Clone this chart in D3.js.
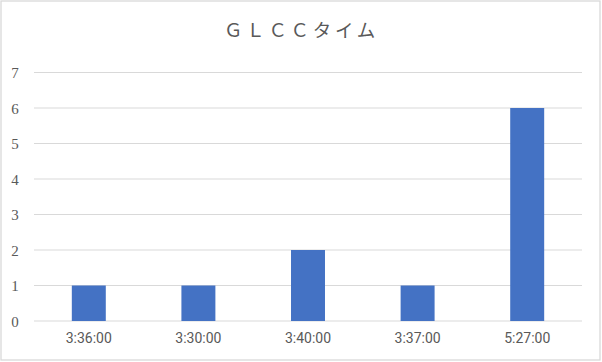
<!DOCTYPE html>
<html><head><meta charset="utf-8">
<script src="https://cdn.jsdelivr.net/npm/d3@7"></script>
<style>body{margin:0;background:#fff}svg{display:block}</style>
</head><body>
<script>
const title = "ＧＬＣＣタイム";
const categories = ["3:36:00","3:30:00","3:40:00","3:37:00","5:27:00"];
const values = [1,1,2,1,6];
const yTicks = [0,1,2,3,4,5,6,7];

const W = 602, H = 362;
const plot = {left:34, right:582, top:72.5, bottom:321};

const svg = d3.select("body").append("svg").attr("width",W).attr("height",H);
svg.append("rect").attr("x",1).attr("y",1).attr("width",599).attr("height",359)
  .attr("fill","#fff").attr("stroke","#d9d9d9").attr("stroke-width",1.3);

const x = d3.scaleBand().domain(categories).range([plot.left, plot.right]).padding(0);
const y = d3.scaleLinear().domain([0,7]).range([plot.bottom, plot.top]);

svg.append("g").selectAll("line").data(yTicks).join("line")
  .attr("x1",plot.left).attr("x2",plot.right)
  .attr("y1",d=>y(d)).attr("y2",d=>y(d))
  .attr("stroke","#d9d9d9").attr("stroke-width",1.2);

const yAxis = d3.axisLeft(y).tickValues(yTicks).tickFormat(d3.format("d")).tickSize(0).tickPadding(0);
const gy = svg.append("g").attr("transform","translate(19,0)").call(yAxis);
gy.select(".domain").remove();
gy.selectAll("text").attr("fill","#595959").attr("text-anchor","middle").attr("x",-4)
  .attr("dy","0.35em")
  .style("font-family","'Liberation Serif','DejaVu Serif',serif").style("font-size","15px");

const bw = x.bandwidth()*0.31;
svg.append("g").selectAll("rect").data(values).join("rect")
  .attr("x",(d,i)=>x(categories[i]) + x.bandwidth()/2 - bw/2)
  .attr("width",bw)
  .attr("y",d=>y(d)).attr("height",d=>y(0)-y(d))
  .attr("fill","#4472c4");

const xAxis = d3.axisBottom(x).tickSize(0).tickPadding(0);
const gx = svg.append("g").attr("transform",`translate(0,${plot.bottom})`).call(xAxis);
gx.select(".domain").remove();
gx.selectAll("text").attr("fill","#595959").attr("y",12).attr("dy","0.71em")
  .style("font-family","Roboto,'Noto Sans',sans-serif").style("font-size","14px");

svg.append("text").text(title).attr("x",301.5).attr("y",37)
  .attr("text-anchor","middle").attr("fill","#595959")
  .style("font-family","'Noto Sans CJK JP',sans-serif").style("font-size","18.5px")
  .style("letter-spacing","3.7px");
</script>
</body></html>
